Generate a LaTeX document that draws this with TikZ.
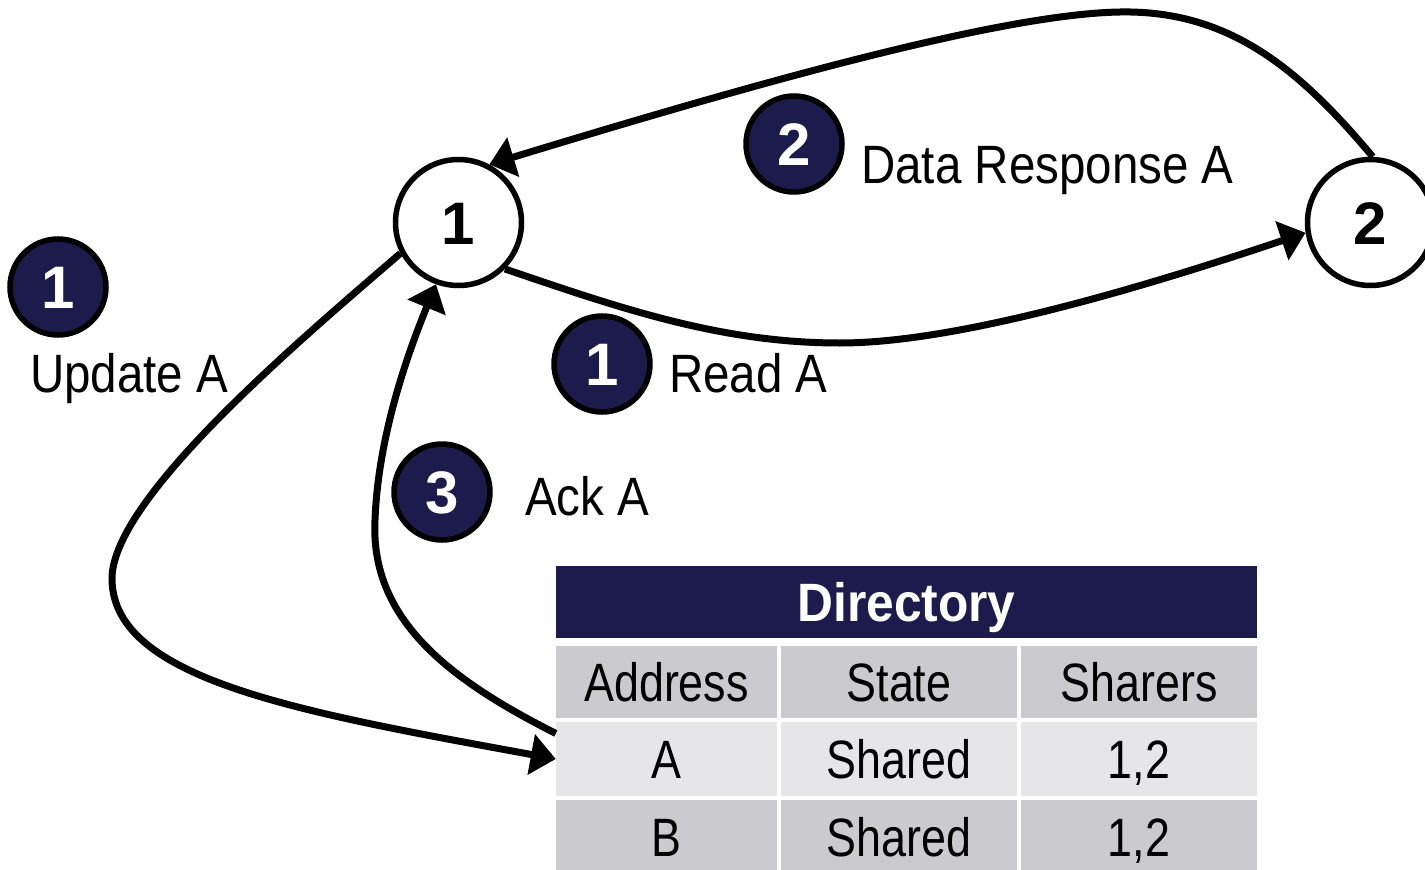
\documentclass[tikz,border=0pt]{standalone}
\usepackage{fontspec}
\setmainfont{Liberation Sans}
\newfontfamily\labelfont[FakeStretch=0.88]{Liberation Sans}
\newfontfamily\cellfont[FakeStretch=0.83]{Liberation Sans}
\newfontfamily\headfont[FakeStretch=0.92]{Liberation Sans}
\usetikzlibrary{arrows.meta}

\definecolor{navy}{RGB}{29,27,76}
\definecolor{cellgray}{RGB}{203,202,207}
\definecolor{celllight}{RGB}{230,230,232}

\begin{document}
\begin{tikzpicture}[x=1pt,y=-1pt,
  proc/.style={circle, draw=black, line width=5.5pt, fill=white,
    minimum size=126pt, inner sep=0pt,
    font=\fontsize{60}{72}\selectfont\bfseries, text height=43pt, text depth=0pt},
  badge/.style={circle, draw=black, line width=5.5pt, fill=navy, text=white,
    minimum size=96pt, inner sep=0pt,
    font=\fontsize{60}{72}\selectfont\bfseries, text height=43pt, text depth=0pt},
  lbl/.style={anchor=base west, inner sep=0pt,
    font=\labelfont\fontsize{54}{64}\selectfont},
  msg/.style={line width=7pt, -{Triangle[length=25pt,width=40pt]}},
  cell/.style={rectangle, draw=none, inner sep=0pt, minimum height=72pt,
    font=\cellfont\fontsize{54}{64}\selectfont, text height=39pt, text depth=0pt},
  wcol/.style={minimum width=221pt},
  ncol/.style={minimum width=236pt},
]
\useasboundingbox (0,0) rectangle (1425,870);

% processors
\node[proc] (n1) at (458.5,222.5) {1};
\node[proc] (n2) at (1370.5,222.5) {2};

% directory table
\node[cell, fill=navy, text=white, minimum width=701pt,
  font=\headfont\bfseries\fontsize{54}{64}\selectfont] (dir) at (906.5,602) {Directory};
\node[cell, wcol, fill=cellgray] (h1) at (666.5,682) {Address};
\node[cell, ncol, fill=cellgray] (h2) at (899,682) {State};
\node[cell, ncol, fill=cellgray] (h3) at (1139,682) {Sharers};
\node[cell, wcol, fill=celllight, minimum height=74pt] (a1) at (666.5,759) {A};
\node[cell, ncol, fill=celllight, minimum height=74pt] (a2) at (899,759) {Shared};
\node[cell, ncol, fill=celllight, minimum height=74pt] (a3) at (1139,759) {1,2};
\node[cell, wcol, fill=cellgray, minimum height=74pt] (r1) at (666.5,837) {B};
\node[cell, ncol, fill=cellgray, minimum height=74pt] (r2) at (899,837) {Shared};
\node[cell, ncol, fill=cellgray, minimum height=74pt] (r3) at (1139,837) {1,2};

% messages
\draw[msg] (n1.-45) .. controls (620,308) and (720,343) .. (840,343)
  .. controls (960,343) and (1150,285) .. (n2.189);
\draw[msg] (n2.88) .. controls (1300,70) and (1230,10) .. (1120,12)
  .. controls (1000,14) and (750,85) .. (n1.62);
\draw[msg] (n1.208) .. controls (300,340) and (110,500) .. (112,580)
  .. controls (114,680) and (300,712) .. (a1.west);
\draw[msg] (a1.167) .. controls (450,680) and (370,620) .. (375,520)
  .. controls (378,440) and (405,360) .. (n1.250);

% step badges
\node[badge] (b1) at (58,287) {1};
\node[badge] (b2) at (794,144) {2};
\node[badge] (b1r) at (602,364) {1};
\node[badge] (b3) at (442,492) {3};

% message labels
\node[lbl] (tUpd) at (30,392) {Update A};
\node[lbl] (tRead) at (669,392) {Read A};
\node[lbl] (tAck) at (525,515) {Ack A};
\node[lbl] (tData) at (861,183) {Data Response A};
\end{tikzpicture}
\end{document}
